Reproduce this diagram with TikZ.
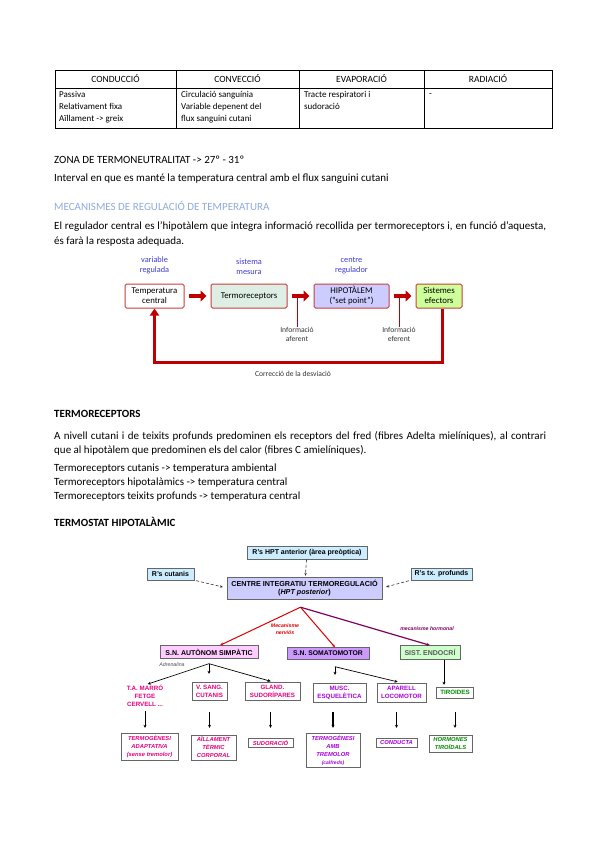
\documentclass[tikz,border=0pt]{standalone}
\usepackage{fontspec}
\setmainfont{Carlito}
\newfontfamily\arialfont{Liberation Sans}
\usetikzlibrary{arrows.meta, positioning, shadows}
\definecolor{headblue}{RGB}{142,170,219}
\definecolor{lblblue}{RGB}{60,60,210}
\definecolor{regred}{RGB}{192,0,0}
\definecolor{boxred}{RGB}{204,60,60}
\definecolor{termgreen}{RGB}{221,238,228}
\definecolor{hipolav}{RGB}{204,204,255}
\definecolor{efecgreen}{RGB}{204,255,153}
\definecolor{rcblue}{RGB}{204,236,255}
\definecolor{autpink}{RGB}{255,204,255}
\definecolor{somapurp}{RGB}{204,153,255}
\definecolor{endogreen}{RGB}{204,255,204}
\definecolor{pinktxt}{RGB}{230,0,126}
\definecolor{purptxt}{RGB}{170,0,220}
\definecolor{greentxt}{RGB}{0,140,0}
\definecolor{hormline}{RGB}{128,0,96}
\definecolor{nervred}{RGB}{220,0,0}

\begin{document}
\begin{tikzpicture}[x=1pt, y=-1pt,
  node distance=26pt,
  txt/.style={anchor=west, inner sep=0pt, font=\fontsize{11}{13}\selectfont},
  para/.style={anchor=west, inner sep=0pt, text width=492pt, align=justify, font=\fontsize{11}{15}\selectfont},
  thead/.style={inner sep=0pt, font=\fontsize{9.5}{10}\selectfont},
  tcell/.style={anchor=north west, inner sep=0pt, align=left, font=\fontsize{9}{12}\selectfont},
  regbox/.style={draw=boxred, line width=1pt, rounded corners=1.5pt, minimum height=24pt, align=center, inner sep=1pt, font=\fontsize{8.8}{10}\selectfont},
  lbl/.style={inner sep=0pt, align=center, text=lblblue, font=\fontsize{8.3}{10}\selectfont},
  infolbl/.style={inner sep=0pt, align=center, text=black!80, font=\fontsize{7.6}{9}\selectfont},
  blockarrow/.style={line width=4.5pt, regred, -{Triangle[length=6pt,width=11pt]}, shorten <=4pt, shorten >=4pt},
  infoline/.style={regred, line width=1pt},
  feedback/.style={regred, line width=3pt, -{Triangle[length=7pt,width=9pt]}},
  tbox/.style={draw=black!60, fill=white, align=center, inner sep=1pt, font=\arialfont\bfseries\fontsize{6.2}{8}\selectfont, drop shadow={shadow xshift=0.8pt, shadow yshift=-0.8pt, fill=black!55, opacity=1}},
  headbox/.style={tbox, font=\arialfont\bfseries\fontsize{7}{8}\selectfont},
  outbox/.style={tbox, font=\arialfont\bfseries\itshape\fontsize{5.8}{8}\selectfont},
  mecalbl/.style={inner sep=0pt, align=center, font=\arialfont\bfseries\itshape\fontsize{5.2}{6.5}\selectfont},
  dasharrow/.style={densely dashed, black!80, line width=0.6pt, -{Stealth[length=3pt,width=2.5pt]}},
  nerv/.style={nervred, line width=1pt, -{Stealth[length=3.5pt,width=3pt]}},
  horm/.style={hormline, line width=1.2pt, -{Stealth[length=3.5pt,width=3pt]}},
  thinarrow/.style={black, line width=0.7pt, -{Stealth[length=3pt,width=3pt]}},
]
\useasboundingbox (0,0) rectangle (599,848);

% taula
\draw[line width=0.7pt] (55,70) rectangle (552,128);
\draw[line width=0.7pt] (55,88) -- (552,88);
\foreach \x in {176,299,424} \draw[line width=0.7pt] (\x,70) -- (\x,128);
\node[thead] (hcond) at (115.5,79) {CONDUCCIÓ};
\node[thead] (hconv) at (237.5,79) {CONVECCIÓ};
\node[thead] (hevap) at (361.5,79) {EVAPORACIÓ};
\node[thead] (hradi) at (488,79) {RADIACIÓ};
\node[tcell] (ccond) at (59,91.5) {Passiva\\Relativament fixa\\Aïllament -> greix};
\node[tcell] (cconv) at (181,91.5) {Circulació sanguínia\\Variable depenent del\\flux sanguini cutani};
\node[tcell] (cevap) at (304,91.5) {Tracte respiratori i\\sudoració};
\node[tcell, anchor=west] (cradi) at (429,95.5) {-};

% text
\node[txt] (zona) at (54,160) {ZONA DE TERMONEUTRALITAT -> 27º - 31º};
\node[txt] (interval) at (54,179) {Interval en que es manté la temperatura central amb el flux sanguini cutani};
\node[txt, text=headblue] (mecan) at (54,206) {MECANISMES DE REGULACIÓ DE TEMPERATURA};
\node[para] (regul) at (54,234.5) {El regulador central es l’hipotàlem que integra informació recollida per termoreceptors i, en funció d’aquesta,\linebreak és farà la resposta adequada.};

% esquema de regulacio
\node[regbox, minimum width=59pt] (tc) at (154.5,296) {Temperatura\\central};
\node[regbox, fill=termgreen, minimum width=76pt, right=of tc] (tr) {Termoreceptors};
\node[regbox, fill=hipolav, minimum width=75pt, right=of tr] (hp) {HIPOTÀLEM\\("set point")};
\node[regbox, fill=efecgreen, minimum width=46pt, right=of hp] (se) {Sistemes\\efectors};
\node[lbl, above=9pt of tc] (varreg) {variable\\regulada};
\node[lbl, above=9pt of tr] (sismes) {sistema\\mesura};
\node[lbl, above=9pt of hp] (cenreg) {centre\\regulador};
\draw[blockarrow] (tc) -- (tr);
\draw[blockarrow] (tr) -- (hp);
\draw[blockarrow] (hp) -- (se);
\node[infolbl] (aferent) at (297,334.5) {Informació\\aferent};
\node[infolbl] (eferent) at (399,334.5) {Informació\\eferent};
\draw[infoline] (aferent.north) -- (aferent.north |- tr.east);
\draw[infoline] (eferent.north) -- (eferent.north |- hp.east);
\draw[feedback] ([xshift=3pt]se.south) -- ++(0,54) -| (tc.south);
\node[infolbl] (correccio) at (293,374) {Correcció de la desviació};

% text
\node[txt, font=\bfseries\fontsize{11}{13}\selectfont] (termorec) at (54,414) {TERMORECEPTORS};
\node[para, font=\fontsize{11}{14}\selectfont] (nivell) at (54,443) {A nivell cutani i de teixits profunds predominen els receptors del fred (fibres Adelta mielíniques), al contrari\linebreak que al hipotàlem que predominen els del calor (fibres C amielíniques).};
\node[txt, align=left, font=\fontsize{11}{14}\selectfont] (llista) at (54,483) {Termoreceptors cutanis -> temperatura ambiental\\Termoreceptors hipotalàmics -> temperatura central\\Termoreceptors teixits profunds -> temperatura central};
\node[txt, font=\bfseries\fontsize{11}{13}\selectfont] (termostat) at (54,522) {TERMOSTAT HIPOTALÀMIC};

% termostat hipotalamic
\node[headbox, fill=rcblue, minimum width=120pt, minimum height=13pt] (hptant) at (307,553) {R’s HPT anterior (àrea preòptica)};
\node[tbox, fill=hipolav, minimum width=155pt, minimum height=22pt, font=\arialfont\bfseries\fontsize{7.2}{8.5}\selectfont] (centre) at (304.5,588) {CENTRE INTEGRATIU TERMOREGULACIÓ\\(\textit{HPT posterior})};
\node[headbox, fill=rcblue, minimum width=47pt, minimum height=12pt] (rcut) at (170.5,574) {R’s cutanis};
\node[headbox, fill=rcblue, minimum width=61pt, minimum height=12pt] (rprof) at (441.5,574) {R’s tx. profunds};
\draw[dasharrow, shorten >=1pt] (hptant) -- (centre);
\draw[dasharrow, shorten <=2pt, shorten >=4pt] (rcut.south east) -- (centre.west);
\draw[dasharrow, shorten <=2pt, shorten >=4pt] (rprof.south west) -- (centre.east);

\node[headbox, fill=autpink, minimum width=98pt, minimum height=13pt] (autonom) at (209,652) {S.N. AUTÒNOM SIMPÀTIC};
\node[headbox, fill=somapurp, minimum width=82pt, minimum height=12pt, font=\arialfont\bfseries\fontsize{6.8}{8}\selectfont] (somato) at (328,653.5) {S.N. SOMATOMOTOR};
\node[headbox, fill=endogreen, text=black!65, minimum width=60pt, minimum height=14pt] (endocri) at (430,652.5) {SIST. ENDOCRÍ};
\coordinate (hub) at ([xshift=-4pt,yshift=-8pt]centre.south);
\draw[nerv] (hub) -- ([xshift=11pt]autonom.north);
\draw[nerv] (hub) -- ([xshift=7pt]somato.north);
\draw[horm] (hub) -- (endocri.north);
\node[mecalbl, text=nervred] (nervios) at (285,629) {Mecanisme\\nerviós};
\node[mecalbl, text=hormline] (hormonal) at (427,629) {mecanisme hormonal};

\node[inner sep=0pt, align=center, text=pinktxt, font=\arialfont\bfseries\fontsize{6.2}{8}\selectfont] (marro) at (145,696) {T.A. MARRÓ\\FETGE\\CERVELL ...};
\node[tbox, text=pinktxt, minimum width=35pt, minimum height=18pt] (vsang) at (209.5,691) {V. SANG.\\CUTANIS};
\node[tbox, text=pinktxt, minimum width=55pt, minimum height=18pt] (gland) at (272.5,691) {GLAND.\\SUDORÍPARES};
\node[tbox, text=purptxt, minimum width=53pt, minimum height=19pt] (musc) at (339.5,692.5) {MUSC.\\ESQUELÈTICA};
\node[tbox, text=purptxt, minimum width=49pt, minimum height=19pt] (apar) at (401.5,692.5) {APARELL\\LOCOMOTOR};
\node[tbox, text=greentxt, minimum width=37pt, minimum height=11pt] (tiro) at (455,692.5) {TIROIDES};

\coordinate (ahub) at ([yshift=-5pt]autonom.south);
\node[inner sep=0pt, text=black!70, font=\arialfont\itshape\fontsize{5.3}{6}\selectfont] (adren) at (172,665) {Adrenalina};
\draw[thinarrow, shorten >=3pt] (ahub) -- (marro.north);
\draw[thinarrow, shorten >=8pt] (ahub) -- (ahub |- vsang.north);
\draw[thinarrow, shorten >=2pt] (ahub) -- (gland.north);
\coordinate (shub) at ([xshift=7pt,yshift=-7pt]somato.south);
\draw[thinarrow, shorten >=8pt] (shub) -- (shub |- musc.north);
\draw[thinarrow, shorten >=4pt] (shub) -- (apar.north);
\draw[thinarrow, shorten >=2pt] ([xshift=14pt]endocri.south) -- ([xshift=14pt]endocri.south |- tiro.north);

\node[outbox, text=pinktxt, minimum width=57pt, minimum height=27pt] (tadapt) at (149.5,746.5) {TERMOGÈNESI\\ADAPTATIVA\\(sense tremolor)};
\node[outbox, text=pinktxt, minimum width=45pt, minimum height=25pt] (aill) at (213.5,747.5) {AÏLLAMENT\\TÈRMIC\\CORPORAL};
\node[outbox, text=pinktxt, minimum width=45pt, minimum height=9pt] (sudo) at (270.5,742.5) {SUDORACIÓ};
\node[outbox, text=purptxt, minimum width=54pt, minimum height=34pt] (trem) at (333,750) {TERMOGÈNESI\\AMB\\TREMOLOR\\{\fontsize{5}{8}\selectfont(calfreds)}};
\node[outbox, text=purptxt, minimum width=41pt, minimum height=9pt] (cond) at (396.5,742.5) {CONDUCTA};
\node[outbox, text=greentxt, minimum width=43pt, minimum height=17pt] (horm) at (450.5,743.5) {HORMONES\\TIROÏDALS};

\draw[thinarrow, shorten <=4pt, shorten >=5pt] (marro.south) -- (marro.south |- tadapt.north);
\draw[thinarrow, shorten <=12pt, shorten >=7pt] (vsang.south) -- (vsang.south |- aill.north);
\draw[thinarrow, shorten <=12pt, shorten >=10pt] (sudo.north |- gland.south) -- (sudo.north);
\draw[thinarrow, line width=1.3pt, shorten <=10pt, shorten >=5pt] (trem.north |- musc.south) -- (trem.north);
\draw[thinarrow, shorten <=10pt, shorten >=10pt] (cond.north |- apar.south) -- (cond.north);
\draw[thinarrow, shorten <=14pt, shorten >=7pt] (tiro.south) -- (tiro.south |- horm.north);
\end{tikzpicture}
\end{document}
